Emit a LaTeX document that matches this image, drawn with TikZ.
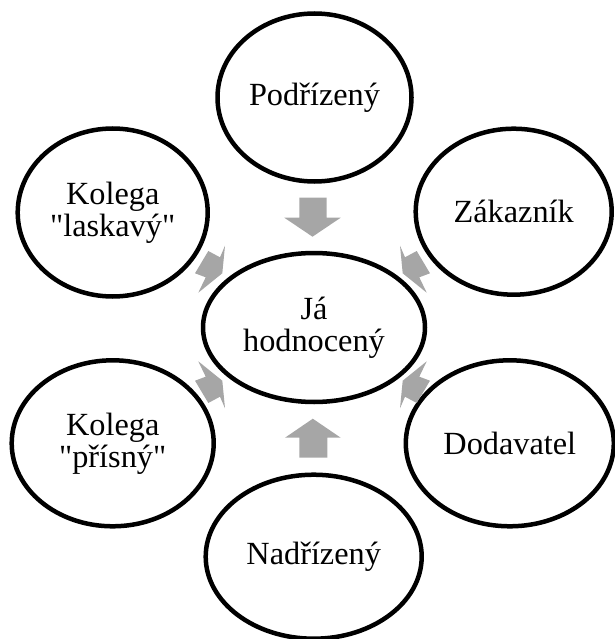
\documentclass[tikz,border=0pt]{standalone}
\usepackage{fontspec}
\setmainfont{Liberation Serif}[Ligatures=TeXOff]
\usetikzlibrary{shapes.geometric}
\definecolor{arrowgray}{RGB}{166,166,166}
\begin{document}
\begin{tikzpicture}[x=1pt,y=-1pt,
  bubble/.style={draw=black, line width=4.5pt, ellipse, inner sep=0pt, align=center,
    font=\fontsize{32.3}{32}\selectfont},
  grayarrow/.style={fill=arrowgray, draw=none}]
\useasboundingbox (0,0) rectangle (614,639);
\node[bubble, minimum width=194pt, minimum height=168pt] (pod) at (314.5,97.5) {Podřízený};
\node[bubble, minimum width=190pt, minimum height=168pt] (kl) at (112.7,212.5) {Kolega\\"laskavý"};
\node[bubble, minimum width=196pt, minimum height=166pt] (zak) at (513.7,211.7) {Zákazník};
\node[bubble, minimum width=222pt, minimum height=149pt] (ja) at (314,327.5) {Já\\hodnocený};
\node[bubble, minimum width=202pt, minimum height=166pt] (kp) at (112.7,443.3) {Kolega\\"přísný"};
\node[bubble, minimum width=208pt, minimum height=166pt] (dod) at (509.8,443.3) {Dodavatel};
\node[bubble, minimum width=216pt, minimum height=164pt] (nad) at (313.7,556.7) {Nadřízený};
% vertical arrows
\fill[grayarrow] (299.3,197.7) -- (326.7,197.7) -- (326.7,217.7) -- (340.7,217.7)
  -- (312.5,236.7) -- (284.3,217.7) -- (299.3,217.7) -- cycle;
\fill[grayarrow] (299.3,457.7) -- (327.3,457.7) -- (327.3,437.7) -- (340.7,437.7)
  -- (312.8,418.7) -- (285,437.7) -- (299.3,437.7) -- cycle;
% diagonal arrows
\foreach \sx/\sy in {1/1,-1/1,1/-1,-1/-1}{
  \begin{scope}[shift={(312.5,327)}, xscale=\sx, yscale=\sy]
    \fill[grayarrow] (-104.2,-76) -- (-92.5,-69.7) -- (-87.5,-81.3) -- (-90.2,-53.7)
      -- (-114.2,-34.3) -- (-106.8,-49.7) -- (-117.5,-53.7) -- cycle;
  \end{scope}
}
\end{tikzpicture}
\end{document}
